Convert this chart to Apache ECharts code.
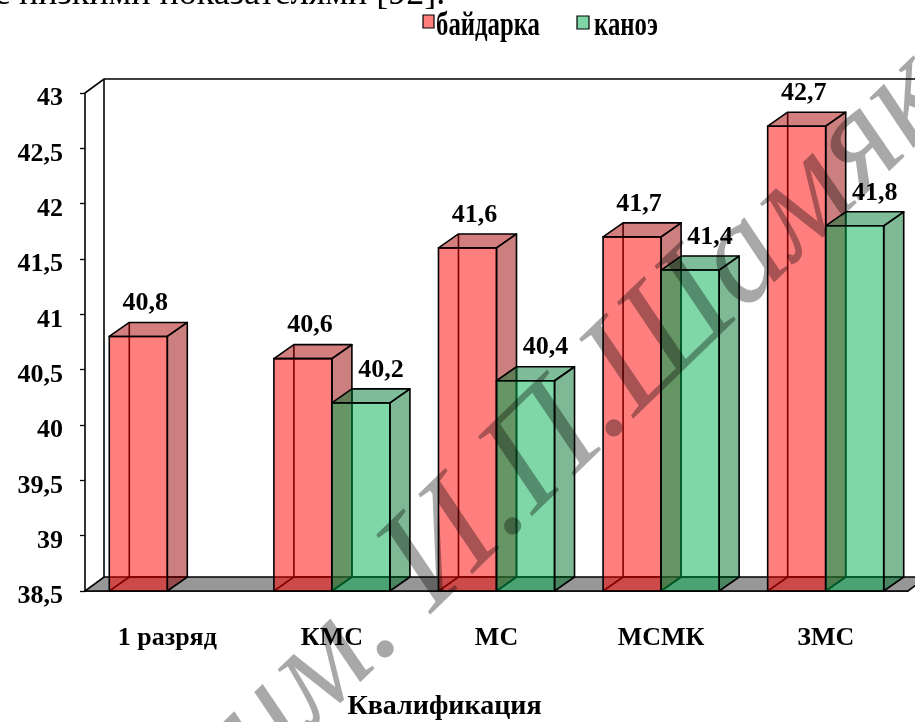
<!DOCTYPE html>
<html>
<head>
<meta charset="utf-8">
<script src="https://cdn.jsdelivr.net/npm/echarts@6/dist/echarts.min.js"></script>
<style>
  html, body { margin: 0; padding: 0; background: #fff; }
  #chart { width: 915px; height: 722px; }
</style>
</head>
<body>
<div id="chart"></div>
<script>
// Qualification categories and the mean values for the two boat classes
const categories = ['1 разряд', 'КМС', 'МС', 'МСМК', 'ЗМС'];
const kayak = [40.8, 40.6, 41.6, 41.7, 42.7];   // байдарка
const canoe = [null, 40.2, 40.4, 41.4, 41.8];   // каноэ
const seriesNames = ['байдарка', 'каноэ'];
const yMin = 38.5, yMax = 43, yStep = 0.5;

const SERIF = '"Liberation Serif", "Times New Roman", serif';
const DX = 20, DY = 14;        // depth of each 3D column
const WDX = 19, WDY = 14;      // depth of the floor and back wall

function fmt(v) { return String(v).replace('.', ','); }

function toPairs(arr) {
  return arr.map((v, i) => v == null ? null : [i, v]).filter(Boolean);
}

// Glass-like 3D column: hidden edges, side, top and front faces, value label
function columnRenderer(slot, col, labelShift) {
  return function (params, api) {
    const i = api.value(0), v = api.value(1);
    const top = api.coord([i, v]);
    const base = api.coord([i, yMin]);
    const band = api.size([1, 0])[0];
    const w = band * 0.3525;
    const x0 = top[0] + slot * w, x1 = x0 + w;
    const yT = top[1], yB = base[1];
    const edge = { stroke: '#000', lineWidth: 1.6, fill: null };
    return {
      type: 'group',
      children: [
        { type: 'polyline', shape: { points: [[x0 + DX, yT - DY], [x0 + DX, yB - DY], [x1 + DX, yB - DY]] }, style: edge },
        { type: 'line', shape: { x1: x0, y1: yB, x2: x0 + DX, y2: yB - DY }, style: { stroke: '#000', lineWidth: 1.6 } },
        { type: 'polygon', shape: { points: [[x1, yT], [x1 + DX, yT - DY], [x1 + DX, yB - DY], [x1, yB]] },
          style: { fill: col.side, stroke: '#000', lineWidth: 1.6, lineJoin: 'round' } },
        { type: 'polygon', shape: { points: [[x0, yT], [x0 + DX, yT - DY], [x1 + DX, yT - DY], [x1, yT]] },
          style: { fill: col.top, stroke: '#000', lineWidth: 1.6, lineJoin: 'round' } },
        { type: 'rect', shape: { x: x0, y: yT, width: w, height: yB - yT },
          style: { fill: col.front, stroke: '#000', lineWidth: 1.6 } },
        { type: 'text', x: x0 + w / 2 + labelShift, y: yT - DY - 6,
          style: { text: fmt(v), font: 'bold 26px ' + SERIF, fill: '#000', align: 'center', verticalAlign: 'bottom' } }
      ]
    };
  };
}

// Floor and back wall of the 3D plot box
function frameRenderer(params, api) {
  const cs = params.coordSys;
  const x = cs.x, y = cs.y, w = cs.width, h = cs.height;
  return {
    type: 'group',
    children: [
      { type: 'polygon', shape: { points: [[x, y + h], [x + w, y + h], [x + w + WDX, y + h - WDY], [x + WDX, y + h - WDY]] },
        style: { fill: '#979797', stroke: '#000', lineWidth: 1.6 } },
      { type: 'polyline', shape: { points: [[x, y], [x + WDX, y - WDY], [x + w + WDX + 40, y - WDY]] },
        style: { stroke: '#000', lineWidth: 1.6, fill: null } },
      { type: 'line', shape: { x1: x + WDX, y1: y - WDY, x2: x + WDX, y2: y + h - WDY },
        style: { stroke: '#000', lineWidth: 1.6 } }
    ]
  };
}

const red = { front: 'rgba(255,0,0,0.5)', side: 'rgba(153,0,0,0.5)', top: 'rgba(170,0,0,0.5)' };
const green = { front: 'rgba(0,173,77,0.5)', side: 'rgba(0,113,41,0.5)', top: 'rgba(0,122,52,0.5)' };

const chart = echarts.init(document.getElementById('chart'), null, { renderer: 'canvas' });

const legendFont = 'bold 33px ' + SERIF;

chart.setOption({
  animation: false,
  backgroundColor: '#fff',
  grid: { left: 85, right: 7, top: 93, bottom: 131, containLabel: false, outerBoundsMode: 'none' },
  xAxis: {
    type: 'category',
    data: categories,
    axisLine: { lineStyle: { color: '#000', width: 1.6 } },
    axisTick: { length: 7, lineStyle: { color: '#000', width: 1.3 } },
    axisLabel: { margin: 34, fontFamily: SERIF, fontWeight: 'bold', fontSize: 26, color: '#000' },
    name: 'Квалификация',
    nameLocation: 'middle',
    nameGap: 102,
    nameTextStyle: { fontFamily: SERIF, fontWeight: 'bold', fontSize: 28, color: '#000', padding: [0, 104, 0, 0] }
  },
  yAxis: {
    type: 'value',
    min: yMin, max: yMax, interval: yStep,
    axisLine: { show: true, lineStyle: { color: '#000', width: 1.6 } },
    axisTick: { show: true, length: 5, lineStyle: { color: '#000', width: 1.3 } },
    splitLine: { show: false },
    axisLabel: {
      margin: 22, color: '#000',
      formatter: v => '{t|' + fmt(v) + '}',
      rich: { t: { fontFamily: SERIF, fontWeight: 'bold', fontSize: 26, color: '#000', padding: [11, 0, 0, 0] } }
    }
  },
  series: [
    { type: 'custom', name: 'frame', silent: true, z: 1, renderItem: frameRenderer,
      encode: { x: 0, y: 1 }, data: [[0, yMin]] },
    { type: 'custom', name: seriesNames[0], z: 2, renderItem: columnRenderer(-1, red, 7),
      encode: { x: 0, y: 1 }, data: toPairs(kayak) },
    { type: 'custom', name: seriesNames[1], z: 2, renderItem: columnRenderer(0, green, 20),
      encode: { x: 0, y: 1 }, data: toPairs(canoe) }
  ],
  graphic: [
    // closing line of the preceding paragraph
    { type: 'text', x: -6, y: -5, z: 50,
      style: { text: 'с низкими показателями [92].', font: '36px ' + SERIF, fill: '#000', verticalAlign: 'middle' } },
    // legend
    { type: 'rect', x: 423, y: 15, z: 50, shape: { width: 11, height: 13 },
      style: { fill: 'rgba(255,0,0,0.5)', stroke: '#000', lineWidth: 1.2 } },
    { type: 'text', x: 436, y: 26, z: 50, scaleX: 0.75,
      style: { text: seriesNames[0], font: legendFont, fill: '#000', verticalAlign: 'middle' } },
    { type: 'rect', x: 577, y: 16, z: 50, shape: { width: 12, height: 13 },
      style: { fill: 'rgba(0,173,77,0.5)', stroke: '#000', lineWidth: 1.2 } },
    { type: 'text', x: 594, y: 26, z: 50, scaleX: 0.75,
      style: { text: seriesNames[1], font: legendFont, fill: '#000', verticalAlign: 'middle' } },
    // library stamp across the figure
    { type: 'text', x: 234, y: 751, z: 100, rotation: 44 * Math.PI / 180, silent: true,
      style: { text: 'им. И.П.Шамякина', font: 'italic 145px ' + SERIF, fill: 'rgba(0,0,0,0.34)',
               align: 'left', verticalAlign: 'middle' } }
  ]
});
</script>
</body>
</html>
